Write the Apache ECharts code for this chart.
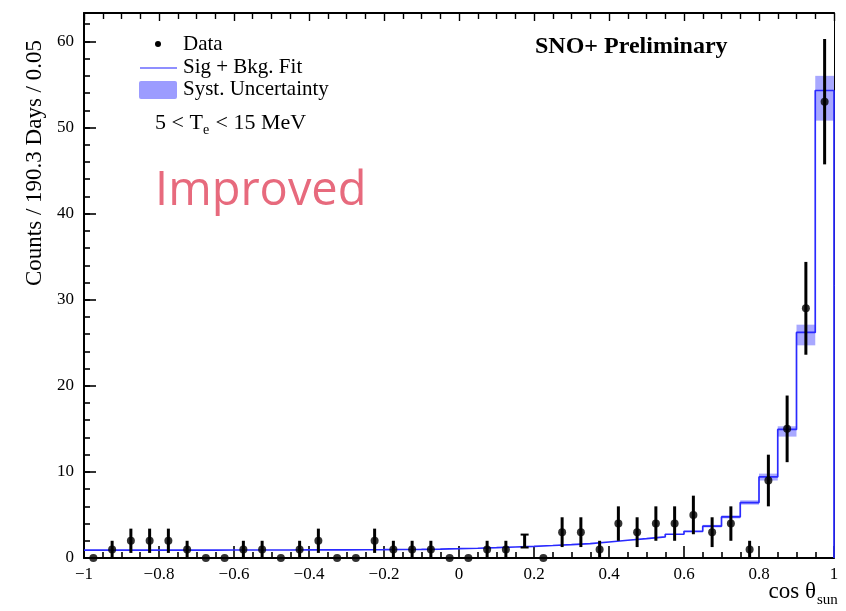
<!DOCTYPE html>
<html>
<head>
<meta charset="utf-8">
<script src="https://cdn.jsdelivr.net/npm/echarts@6/dist/echarts.min.js"></script>
<style>
html,body{margin:0;padding:0;background:#fff;}
#chart{width:846px;height:611px;}
</style>
</head>
<body>
<div id="chart"></div>
<script>
// histogram binning in cos(theta_sun)
const binStart = -1;
const binWidth = 0.05;

// observed counts per bin (40 bins from -1 to 1)
const counts = [0, 1, 2, 2, 2, 1, 0, 0, 1, 1,
                0, 1, 2, 0, 0, 2, 1, 1, 1, 0,
                0, 1, 1, 1.97, 0, 3, 3, 1, 4, 3,
                4, 4, 5, 3, 4, 1, 9, 15, 29, 53];
// statistical error bars
const errors = [0, 1, 1.41, 1.41, 1.41, 1, 0, 0, 1, 1,
                0, 1, 1.41, 0, 0, 1.41, 1, 1, 1, 0,
                0, 1, 1, 0.75, 0, 1.73, 1.73, 1, 2, 1.73,
                2, 2, 2.24, 1.73, 2, 1, 3, 3.87, 5.39, 7.28];
// bin drawn as a bare error bar with caps (no marker)
const capOnlyBins = [23];

// signal + background fit
const fit = [0.92, 0.92, 0.92, 0.92, 0.92, 0.92, 0.92, 0.93, 0.93, 0.93,
             0.93, 0.94, 0.94, 0.95, 0.96, 0.97, 0.99, 1.01, 1.04, 1.08,
             1.13, 1.2, 1.28, 1.36, 1.45, 1.55, 1.66, 1.86, 2.06, 2.25,
             2.45, 2.76, 3.1, 3.7, 4.77, 6.44, 9.42, 14.93, 26.2, 54.3];

// systematic uncertainty band (visible bins only)
const systBins = [33, 34, 35, 36, 37, 38, 39];
const systLow  = [3.55, 4.6, 6.2, 9.0, 14.1, 24.7, 50.8];
const systHigh = [3.85, 4.95, 6.7, 9.8, 15.3, 27.1, 56.0];

const yMax = 63.3;
const serif = 'Liberation Serif';

let chart = echarts.init(document.getElementById('chart'));

let fitPts = fit.map((f, i) => [binStart + binWidth * i, f]);
fitPts.push([1, fit[fit.length - 1]]);
fitPts.push([1, 0]);

let dotData = [];
let errData = [];
counts.forEach((c, i) => {
  let x = binStart + binWidth * (i + 0.5);
  let capOnly = capOnlyBins.indexOf(i) >= 0;
  if (!capOnly) dotData.push([x, c]);
  errData.push([x, c, errors[i], capOnly ? 1 : 0]);
});

let bandData = systBins.map((b, k) => [binStart + binWidth * b, systLow[k], systHigh[k]]);

let fmtX = v => {
  let r = Math.round(v * 10) / 10;
  return (r < 0 ? '\u2212' + Math.abs(r) : '' + r);
};

chart.setOption({
  animation: false,
  backgroundColor: '#fff',
  grid: {left: 84, right: 12, top: 13, bottom: 53},
  xAxis: [{
    type: 'value', min: -1, max: 1, interval: 0.2, position: 'bottom',
    axisLine: {show: true, onZero: false, lineStyle: {color: '#000', width: 2}},
    axisTick: {show: true, inside: true, length: 12, lineStyle: {color: '#000', width: 1.6}},
    minorTick: {show: true, splitNumber: 4, length: 6, lineStyle: {color: '#000', width: 1.6}},
    splitLine: {show: false},
    axisLabel: {color: '#000', fontFamily: serif, fontSize: 17, margin: 8, formatter: fmtX}
  }, {
    type: 'value', min: -1, max: 1, interval: 0.2, position: 'top',
    axisLine: {show: true, onZero: false, lineStyle: {color: '#000', width: 2}},
    axisTick: {show: true, inside: true, length: 8, lineStyle: {color: '#000', width: 1.4}},
    minorTick: {show: true, splitNumber: 4, length: 6, lineStyle: {color: '#000', width: 1.4}},
    splitLine: {show: false},
    axisLabel: {show: false}
  }],
  yAxis: [{
    type: 'value', min: 0, max: yMax, interval: 10, position: 'left',
    axisLine: {show: true, onZero: false, lineStyle: {color: '#000', width: 2}},
    axisTick: {show: true, inside: true, length: 12, lineStyle: {color: '#000', width: 1.6}},
    splitLine: {show: false},
    axisLabel: {color: '#000', fontFamily: serif, fontSize: 17, margin: 10,
      formatter: v => (Math.abs(v % 10) < 1e-6 ? '' + v : '')}
  }, {
    // minor ticks every 2 counts
    type: 'value', min: 0, max: yMax, interval: 2, position: 'left',
    axisLine: {show: false, onZero: false},
    axisTick: {show: true, inside: true, length: 6, lineStyle: {color: '#000', width: 1.6}},
    splitLine: {show: false},
    axisLabel: {show: false}
  }, {
    type: 'value', min: 0, max: yMax, position: 'right',
    axisLine: {show: true, onZero: false, lineStyle: {color: '#000', width: 1}},
    axisTick: {show: false}, splitLine: {show: false}, axisLabel: {show: false}
  }],
  series: [{
    name: 'Syst. Uncertainty',
    type: 'custom',
    data: bandData,
    renderItem: function (params, api) {
      let x0 = api.value(0);
      let p1 = api.coord([x0, api.value(2)]);
      let p2 = api.coord([x0 + binWidth, api.value(1)]);
      return {
        type: 'rect',
        shape: {x: p1[0], y: p1[1], width: p2[0] - p1[0], height: p2[1] - p1[1]},
        style: {fill: 'rgba(110,110,255,0.6)'}
      };
    },
    z: 1
  }, {
    name: 'Sig + Bkg. Fit',
    type: 'line',
    step: 'end',
    data: fitPts,
    showSymbol: false,
    lineStyle: {color: '#2a2aff', width: 1.7},
    z: 2
  }, {
    name: 'Data err',
    type: 'custom',
    data: errData,
    clip: false,
    renderItem: function (params, api) {
      let x = api.value(0), y = api.value(1), e = api.value(2), cap = api.value(3);
      if (!e) return null;
      let top = api.coord([x, y + e]);
      let bot = api.coord([x, y - e]);
      let kids = [{
        type: 'line',
        shape: {x1: top[0], y1: top[1], x2: bot[0], y2: bot[1]},
        style: {stroke: '#000', lineWidth: 3}
      }];
      if (cap) {
        kids.push({type: 'line', shape: {x1: top[0] - 4, y1: top[1], x2: top[0] + 4, y2: top[1]}, style: {stroke: '#000', lineWidth: 2}});
        kids.push({type: 'line', shape: {x1: bot[0] - 4, y1: bot[1], x2: bot[0] + 4, y2: bot[1]}, style: {stroke: '#000', lineWidth: 2}});
      }
      return {type: 'group', children: kids};
    },
    z: 3
  }, {
    name: 'Data',
    type: 'scatter',
    data: dotData,
    symbol: 'circle',
    symbolSize: 8,
    clip: false,
    itemStyle: {color: '#000'},
    z: 4
  }],
  graphic: [
    // legend
    {type: 'circle', shape: {cx: 158, cy: 44, r: 3}, style: {fill: '#000'}, z: 10},
    {type: 'text', x: 183, y: 44, style: {text: 'Data', font: '21px "Liberation Serif"', fill: '#000', verticalAlign: 'middle'}, z: 10},
    {type: 'line', shape: {x1: 140, y1: 68, x2: 177, y2: 68}, style: {stroke: '#8f8fff', lineWidth: 2}, z: 10},
    {type: 'text', x: 183, y: 67, style: {text: 'Sig + Bkg. Fit', font: '21px "Liberation Serif"', fill: '#000', verticalAlign: 'middle'}, z: 10},
    {type: 'rect', shape: {x: 139, y: 81, width: 38, height: 18, r: 2}, style: {fill: '#9c9cff'}, z: 10},
    {type: 'text', x: 183, y: 89, style: {text: 'Syst. Uncertainty', font: '21px "Liberation Serif"', fill: '#000', verticalAlign: 'middle'}, z: 10},
    // energy range
    {type: 'text', x: 155, y: 123, style: {text: '5 < T', font: '22px "Liberation Serif"', fill: '#000', verticalAlign: 'middle'}, z: 10},
    {type: 'text', x: 203, y: 130, style: {text: 'e', font: '14px "Liberation Serif"', fill: '#000', verticalAlign: 'middle'}, z: 10},
    {type: 'text', x: 210, y: 123, style: {text: ' < 15 MeV', font: '22px "Liberation Serif"', fill: '#000', verticalAlign: 'middle'}, z: 10},
    // stamp
    {type: 'text', x: 155, y: 192, style: {text: 'Improved', font: '47px "Open Sans"', fill: '#e76a7d', verticalAlign: 'middle'}, z: 10},
    {type: 'text', x: 535, y: 47, style: {text: 'SNO+ Preliminary', font: 'bold 24px "Liberation Serif"', fill: '#000', verticalAlign: 'middle'}, z: 10},
    // axis titles
    {type: 'text', x: 35, y: 40, rotation: Math.PI / 2,
      style: {text: 'Counts / 190.3 Days / 0.05', font: '23px "Liberation Serif"', fill: '#000', align: 'right', verticalAlign: 'middle'}, z: 10},
    {type: 'text', x: 816, y: 592, style: {text: 'cos \u03b8', font: '23px "Liberation Serif"', fill: '#000', align: 'right', verticalAlign: 'middle'}, z: 10},
    {type: 'text', x: 817, y: 600, style: {text: 'sun', font: '15px "Liberation Serif"', fill: '#000', verticalAlign: 'middle'}, z: 10}
  ]
});
</script>
</body>
</html>
